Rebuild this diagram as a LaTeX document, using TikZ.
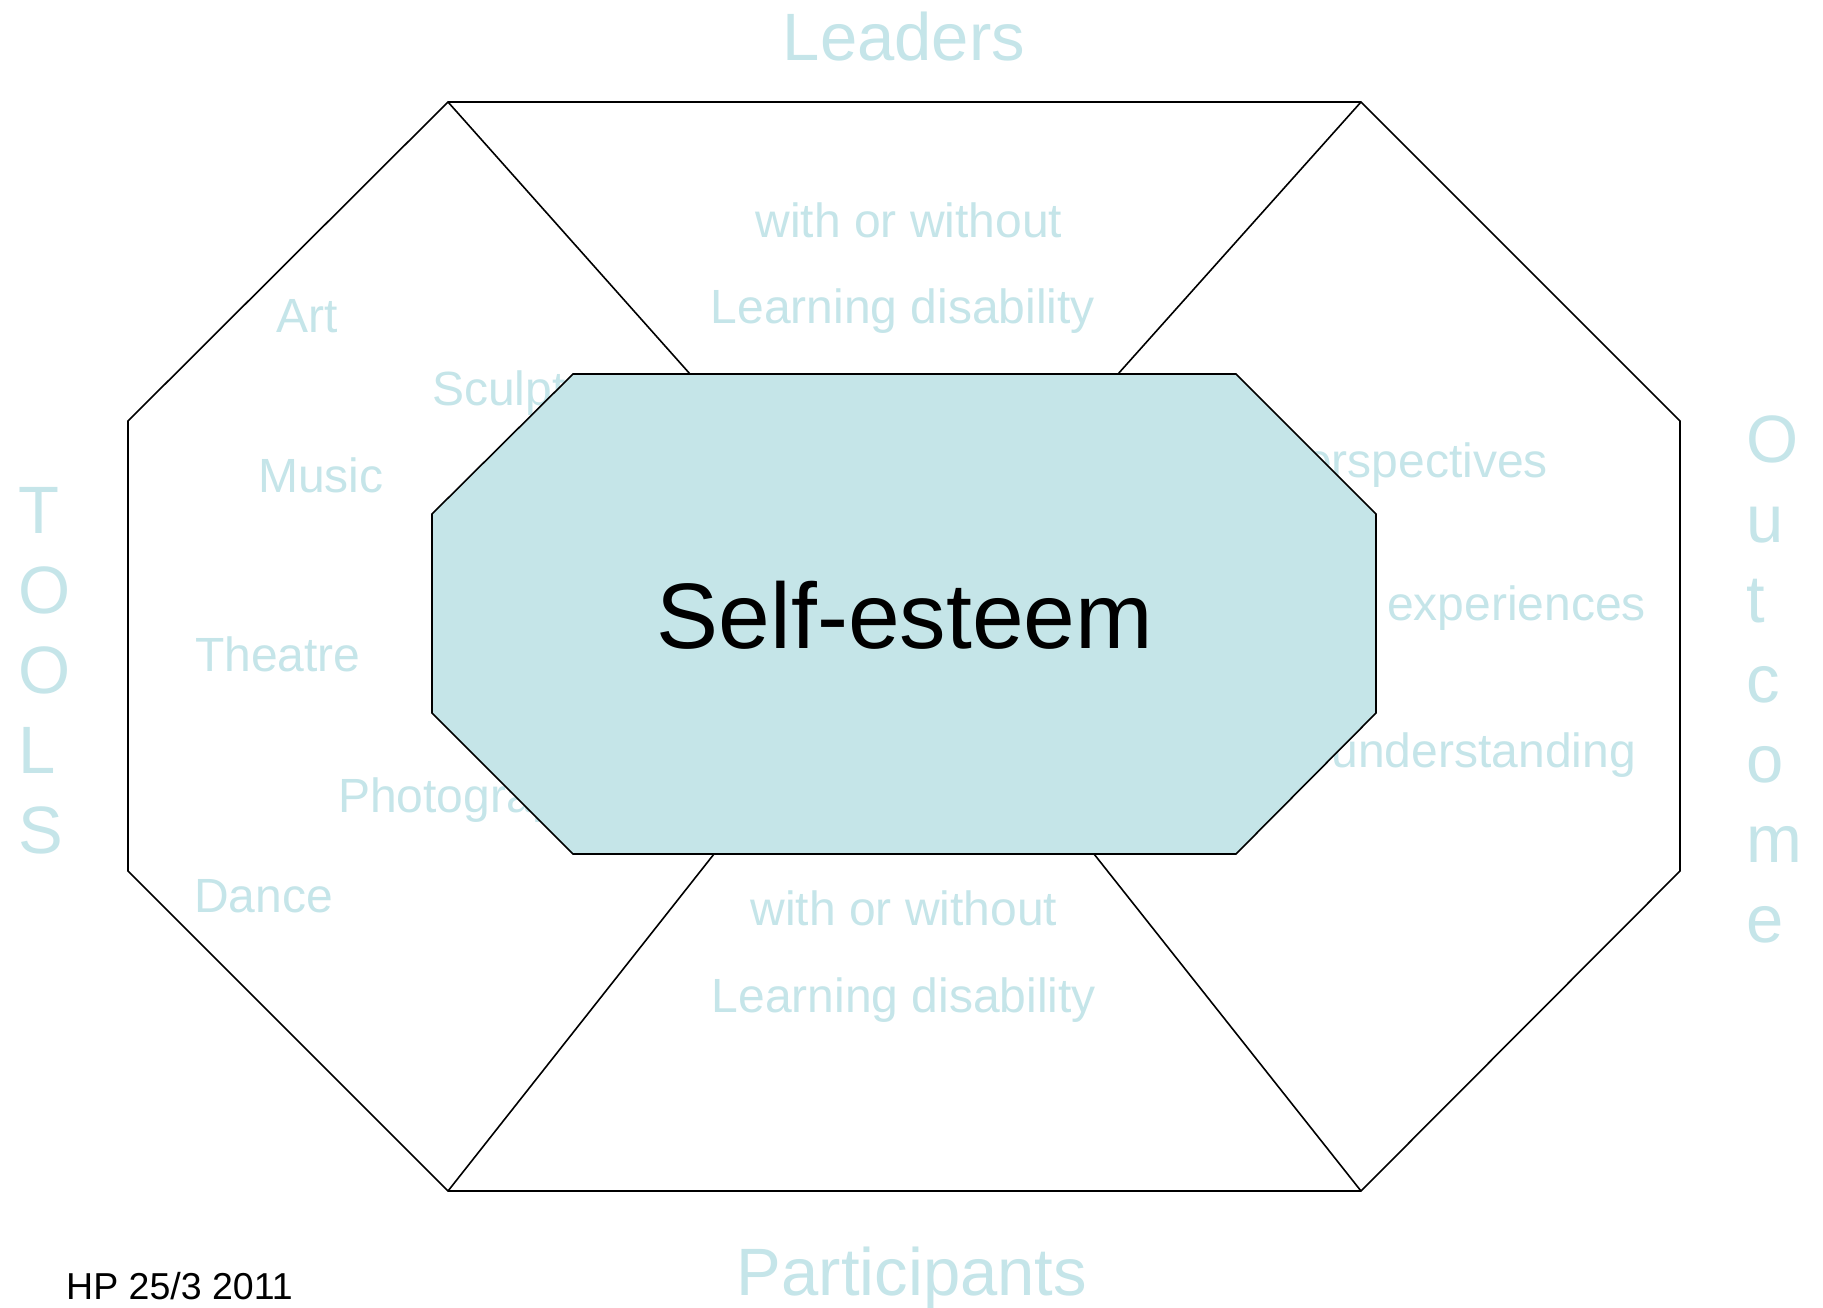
\documentclass[tikz,border=0pt]{standalone}
\usepackage{fontspec}
\setmainfont{Liberation Sans}
\definecolor{pale}{HTML}{C5E5E9}
\definecolor{panefill}{HTML}{C5E5E8}
\begin{document}
\begin{tikzpicture}[x=1pt,y=-1pt,
  lbl/.style={text=pale, inner sep=0pt, font=\fontsize{48}{58}\selectfont},
  big/.style={text=pale, inner sep=0pt, font=\fontsize{67}{80}\selectfont},
  edge/.style={draw=black, line width=1.6pt, line join=miter},
  core/.style={edge, fill=panefill}]
\useasboundingbox (0,0) rectangle (1823,1308);
\fill[white] (0,0) rectangle (1823,1308);
% outer octagon vertices
\coordinate (o1) at (448,102);  \coordinate (o2) at (1361,102);
\coordinate (o3) at (1680,421); \coordinate (o4) at (1680,871);
\coordinate (o5) at (1361,1191);\coordinate (o6) at (448,1191);
\coordinate (o7) at (128,871);  \coordinate (o8) at (128,421);
% inner octagon vertices
\coordinate (i1) at (573,374);  \coordinate (i2) at (1236,374);
\coordinate (i3) at (1376,514); \coordinate (i4) at (1376,713);
\coordinate (i5) at (1236,854); \coordinate (i6) at (573,854);
\coordinate (i7) at (432,713);  \coordinate (i8) at (432,514);
% connector ends on the inner octagon
\coordinate (ca) at (690,374);  \coordinate (cb) at (1118,374);
\coordinate (cc) at (1094,854); \coordinate (cd) at (714,854);
\draw[edge] (o1) -- (o2) -- (o3) -- (o4) -- (o5) -- (o6) -- (o7) -- (o8) -- cycle;
\draw[edge] (o1) -- (ca);
\draw[edge] (o2) -- (cb);
\draw[edge] (o5) -- (cc);
\draw[edge] (o6) -- (cd);
% headings
\node[big, anchor=base] (leaders) at (904,61) {Leaders};
\node[big, anchor=base] (participants) at (912,1295) {Participants};
\foreach \l/\yy [count=\k] in {T/533,O/613,O/693,L/773,S/853}
  \node[big, anchor=base west] (tools\k) at (18,\yy) {\l};
\foreach \l/\yy [count=\k] in {O/462,u/542,t/622,c/702,o/782,m/862,e/942}
  \node[big, anchor=base west] (outc\k) at (1746,\yy) {\l};
% top & bottom panels
\node[lbl, anchor=base] (tw) at (909,237) {with or without};
\node[lbl, anchor=base] (tl) at (903,323) {Learning disability};
\node[lbl, anchor=base] (bw) at (904,925) {with or without};
\node[lbl, anchor=base] (bl) at (904,1012) {Learning disability};
% left panel
\node[lbl, anchor=base west] (art) at (276,332) {Art};
\node[lbl, anchor=base west] (sculpture) at (432,405) {Sculpture};
\node[lbl, anchor=base west] (music) at (258,492) {Music};
\node[lbl, anchor=base west] (theatre) at (195,671) {Theatre};
\node[lbl, anchor=base west] (photo) at (338,812) {Photography};
\node[lbl, anchor=base west] (dance) at (194,912) {Dance};
% right panel
\node[lbl, anchor=base east] (persp) at (1548,477) {perspectives};
\node[lbl, anchor=base west] (exper) at (1387,620) {experiences};
\node[lbl, anchor=base east] (under) at (1636,767) {understanding};
% central octagon
\draw[core] (i1) -- (i2) -- (i3) -- (i4) -- (i5) -- (i6) -- (i7) -- (i8) -- cycle;
\node[inner sep=0pt, anchor=base, font=\fontsize{93}{111}\selectfont] (self) at (905,648) {Self-esteem};
% footer
\node[inner sep=0pt, anchor=base west, font=\fontsize{37.5}{45}\selectfont] (hp) at (66,1299) {HP 25/3 2011};
\end{tikzpicture}
\end{document}
